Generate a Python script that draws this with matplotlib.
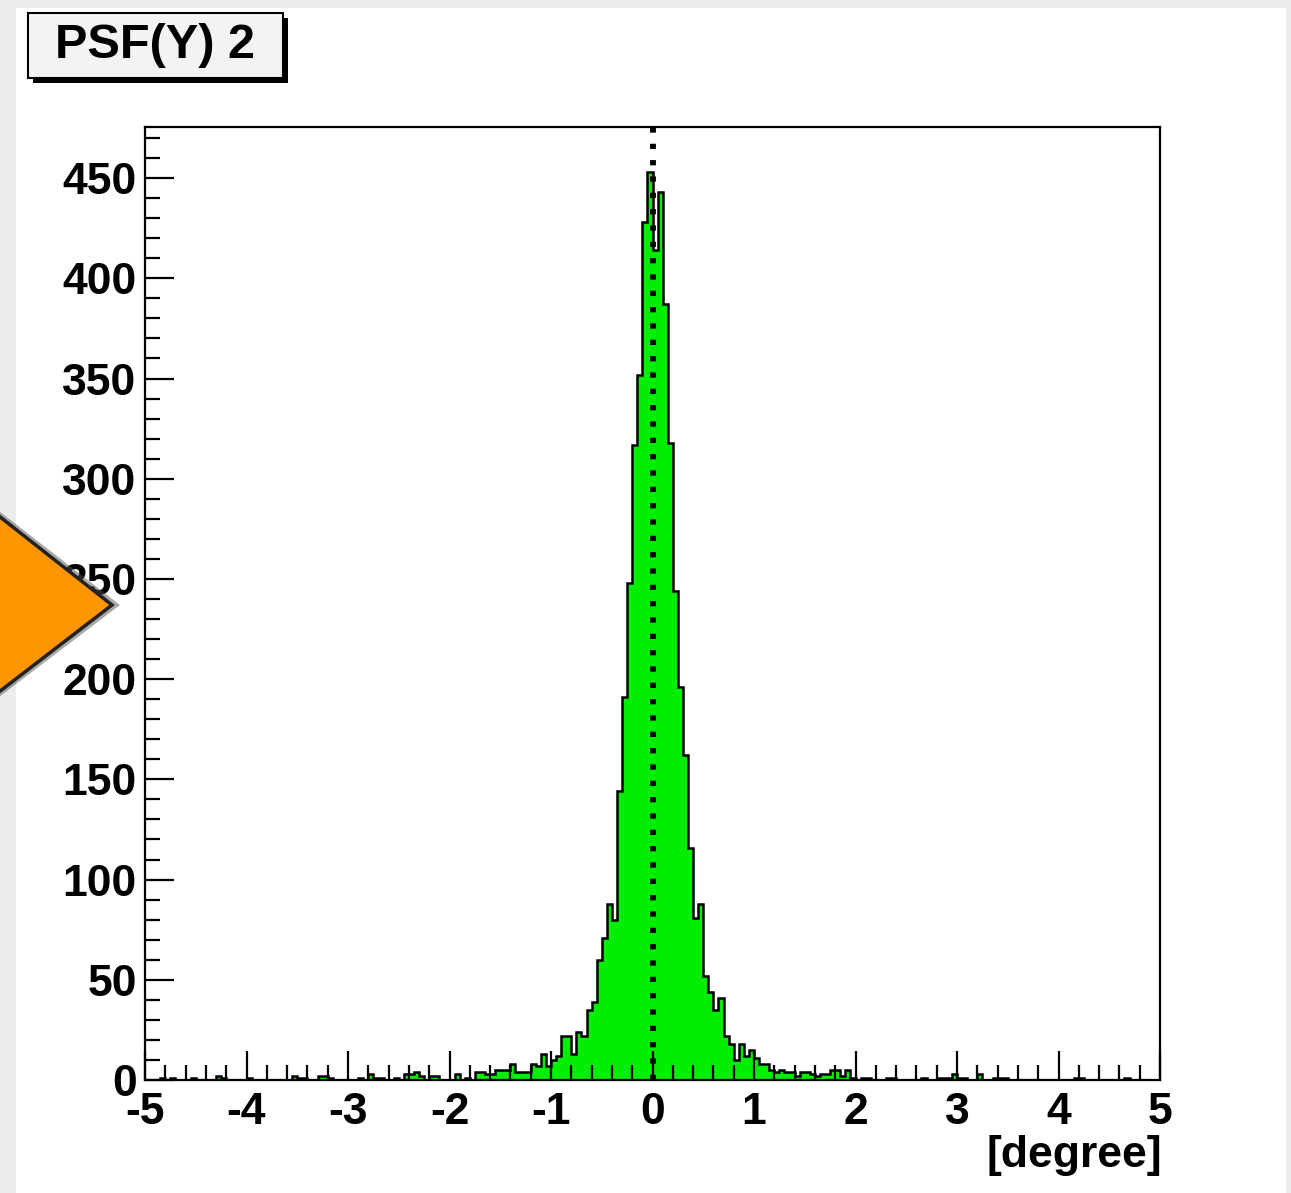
import numpy as np
import matplotlib
matplotlib.use('Agg')
import matplotlib.pyplot as plt
from matplotlib.patches import Rectangle, Polygon
from matplotlib.ticker import MultipleLocator

plt.rcParams['font.family'] = ['Liberation Sans', 'DejaVu Sans']

title = "PSF(Y) 2"
x_label = "[degree]"
x_range = (-5.0, 5.0)
n_bins = 200
counts = [
    0, 0, 0, 1, 0, 1, 0, 0, 0, 1,
    0, 0, 0, 0, 2, 1, 0, 0, 0, 0,
    1, 0, 0, 0, 0, 0, 0, 0, 0, 2,
    1, 1, 0, 0, 2, 2, 1, 0, 0, 0,
    0, 0, 1, 0, 3, 1, 1, 0, 0, 1,
    0, 3, 3, 4, 2, 0, 2, 2, 0, 0,
    0, 3, 0, 1, 0, 4, 4, 3, 3, 5,
    5, 5, 8, 4, 4, 4, 8, 7, 13, 7,
    10, 12, 22, 22, 13, 24, 22, 35, 39, 60,
    71, 88, 80, 144, 191, 248, 317, 352, 428, 453,
    414, 443, 387, 318, 244, 196, 162, 116, 81, 88,
    52, 44, 35, 41, 22, 18, 10, 18, 12, 15,
    11, 8, 8, 5, 4, 5, 4, 4, 2, 4,
    4, 3, 2, 3, 3, 5, 5, 2, 5, 1,
    0, 1, 1, 0, 0, 0, 1, 1, 0, 0,
    0, 0, 0, 1, 0, 0, 1, 1, 1, 3,
    1, 1, 0, 0, 3, 0, 0, 1, 1, 1,
    0, 0, 0, 0, 0, 0, 0, 0, 0, 0,
    0, 0, 0, 1, 1, 0, 0, 0, 0, 0,
    0, 0, 0, 1, 0, 0, 0, 0, 0, 0,
]
mean_line_x = 0.0

W, H = 1291, 1193
fig = plt.figure(figsize=(W / 100, H / 100), dpi=100)
fig.patch.set_facecolor('#ececec')

def fx(px):
    return px / W

def fy(py):
    return 1 - py / H

# white canvas
fig.patches.append(Rectangle((fx(16), 0), fx(1286) - fx(16), fy(8), transform=fig.transFigure,
                             facecolor='white', edgecolor='none', zorder=-5))

ax = fig.add_axes([fx(145), fy(1080), fx(1160) - fx(145), fy(127) - fy(1080)])
ax.set_zorder(1)
edges = np.linspace(x_range[0], x_range[1], n_bins + 1)
vals = np.array(counts, dtype=float)
ax.stairs(vals, edges, fill=True, facecolor='#00ee00', edgecolor='none', zorder=1)
ax.stairs(vals, edges, color='black', linewidth=1.8, zorder=1.2)
ax.axvline(mean_line_x, color='black', linewidth=4.2, linestyle=(0, (0.9, 1.9)),
           dash_capstyle='butt', zorder=3)

ax.set_xlim(*x_range)
ax.set_ylim(0, 475.5)
ax.set_axisbelow(False)
for s in ax.spines.values():
    s.set_linewidth(1.6)
ax.xaxis.set_major_locator(MultipleLocator(1))
ax.xaxis.set_minor_locator(MultipleLocator(0.2))
ax.yaxis.set_major_locator(MultipleLocator(50))
ax.yaxis.set_minor_locator(MultipleLocator(10))
ax.tick_params(which='both', direction='in', top=False, right=False, width=1.6)
ax.tick_params(axis='x', which='major', length=21, pad=9, labelsize=32)
ax.tick_params(axis='x', which='minor', length=10.5)
ax.tick_params(axis='y', which='major', length=21, pad=6, labelsize=32)
ax.tick_params(axis='y', which='minor', length=10.5)
ax.set_xticks(np.arange(-5, 6, 1))
ax.set_xticklabels([f"{v}" for v in range(-5, 6)])
for lab in ax.get_xticklabels() + ax.get_yticklabels():
    lab.set_fontweight('bold')

fig.text(fx(1162), fy(1155), x_label, ha='right', va='center', fontsize=32, fontweight='bold')

# title box with shadow
fig.patches.append(Rectangle((fx(33), fy(83)), fx(288) - fx(33), fy(18) - fy(83), transform=fig.transFigure,
                             facecolor='black', edgecolor='none', zorder=5))
fig.patches.append(Rectangle((fx(28), fy(78)), fx(283) - fx(28), fy(13) - fy(78), transform=fig.transFigure,
                             facecolor='#f3f3f3', edgecolor='black', linewidth=1.5, zorder=6))
fig.text(fx(155), fy(46), title, ha='center', va='center', fontsize=35, fontweight='bold', zorder=7)

# orange arrow overlay
shadow = Polygon([(fx(-5), fy(508)), (fx(120), fy(605)), (fx(-5), fy(700))], closed=True,
                 transform=fig.transFigure, facecolor='#555555', edgecolor='none', alpha=0.5, zorder=8)
tri = Polygon([(fx(-5), fy(513)), (fx(112), fy(605)), (fx(-5), fy(695))], closed=True,
              transform=fig.transFigure, facecolor='#ff9500', edgecolor='#222222', linewidth=2.5, zorder=9)
fig.patches.append(shadow)
fig.patches.append(tri)

fig.savefig('out.png', dpi=100, facecolor=fig.get_facecolor())
